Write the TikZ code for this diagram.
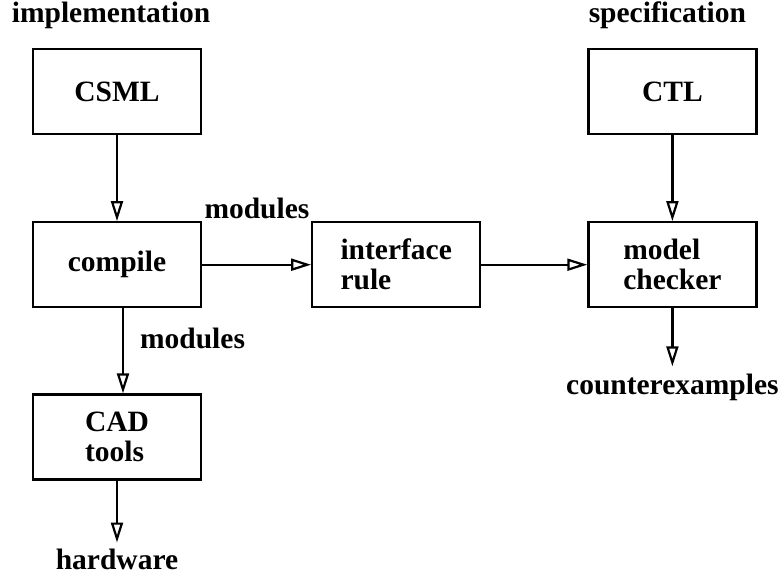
\documentclass[tikz,border=0pt]{standalone}
\usepackage{fontspec}
\setmainfont{Liberation Serif}
\usepackage{tikz}
\usetikzlibrary{arrows.meta,positioning,calc}
\tikzstyle{every edge}=[draw,line width=1.1pt,-{Triangle[open,length=10pt,width=6pt]}]
\tikzstyle{block}=[draw,line width=1.1pt,minimum width=84pt,minimum height=42.5pt,inner sep=0pt,align=left,font=\fontsize{14.75}{15}\selectfont\bfseries]
\tikzstyle{lbl}=[inner sep=1pt,font=\fontsize{14.75}{15}\selectfont\bfseries]

\begin{document}
\begin{tikzpicture}[x=0.5pt,y=-0.5pt]
  \useasboundingbox (0,0) rectangle (782,573);

  % implementation side
  \node[block] (csml) at (117,91.5) {CSML};
  \node[block, below = 43pt of csml] (compile) {compile};
  \node[block, below = 42.5pt of compile] (cad) {CAD\\tools};
  \node[lbl, below = 31pt of cad, inner sep=3pt] (hw) {hardware};
  \node[lbl, above = 9.5pt of csml, xshift=-3pt, inner sep=0pt] (impl) {implementation};

  % checking side
  \node[block, right = 54.5pt of compile] (iface) {interface\\rule};
  \node[block, right = 53pt of iface] (mc) {model\\checker};
  \node[block, above = 43pt of mc] (ctl) {CTL};
  \node[lbl, below = 29pt of mc, inner sep=3.5pt] (cex) {counterexamples};
  \node[lbl, above = 9.5pt of ctl, xshift=-2.5pt, inner sep=0pt] (spec) {specification};

  \node[lbl, anchor=south west] (mod1) at (compile.north east) {modules};

  \path (csml) edge (compile);
  \path (compile) edge (iface);
  \path (iface) edge (mc);
  \path (ctl) edge (mc);
  \path (mc) edge (cex);
  \path (cad) edge (hw);
  \path ([xshift=3pt]compile.south) edge node[lbl, right, pos=0.35, inner sep=8pt] (mod2) {modules} ([xshift=3pt]cad.north);
\end{tikzpicture}
\end{document}
